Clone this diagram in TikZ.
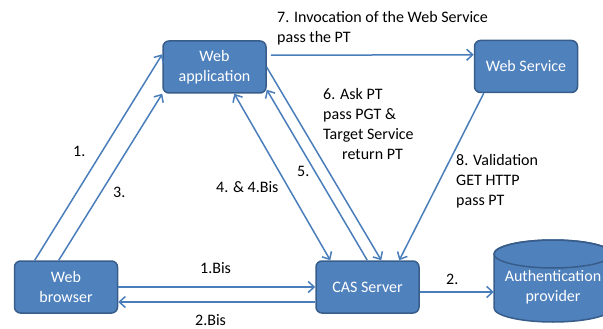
\documentclass[tikz,border=0pt]{standalone}
\usepackage{fontspec}
\setmainfont{Carlito}
\usetikzlibrary{arrows.meta}
\definecolor{boxblue}{HTML}{4F81BD}
\definecolor{boxedge}{HTML}{385D8A}
\definecolor{linkblue}{HTML}{4A7EBB}

\begin{document}
\begin{tikzpicture}[x=1pt,y=-1pt,
  font=\fontsize{16}{20}\selectfont,
  block/.style={draw=boxedge,fill=boxblue,line width=1.5pt,rounded corners=6pt,
    text=white,align=center,minimum width=103pt,minimum height=52pt,inner sep=0pt},
  link/.style={draw=linkblue,line width=1.5pt,-{Straight Barb[length=6pt,width=11pt]}},
  lbl/.style={inner sep=0pt,align=left}]
  \useasboundingbox (0,0) rectangle (603,329);
  \clip (0,0) rectangle (603,329);
  \draw[boxedge,line width=1.5pt,fill=boxblue] (494,254) -- (494,308)
    arc[start angle=180,end angle=360,x radius=59pt,y radius=14pt] -- (612,254)
    arc[start angle=0,end angle=180,x radius=59pt,y radius=14pt] -- cycle;
  \draw[boxedge,line width=1.5pt] (553,254) ellipse[x radius=59pt,y radius=14pt];
  \node[inner sep=0pt,minimum width=118pt,minimum height=82pt,text=white,align=center] (auth) at (553,287) {Authentication\\provider};

  \node[block] (webapp) at (214.5,67) {Web\\application};
  \node[block] (websvc) at (526,66.5) {Web Service};
  \node[block] (browser) at (66,287) {Web\\browser};
  \node[block] (cas) at (367.5,287) {CAS Server};

  \draw[link] ([xshift=21pt]browser.north west) -- ([yshift=-14pt]webapp.north west);
  \draw[link] ([xshift=45pt]browser.north west) -- (webapp.south west);
  \draw[link,{Straight Barb[length=6pt,width=11pt]}-{Straight Barb[length=6pt,width=11pt]}] ([xshift=72pt]webapp.south west) -- ([xshift=15pt]cas.north west);
  \draw[link] ([yshift=-27pt]webapp.north east) -- ([xshift=66pt]cas.north west);
  \draw[link] ([xshift=52pt]cas.north west) -- ([yshift=4pt]webapp.south east);
  \draw[link] ([xshift=4pt,yshift=-15pt]webapp.north east) -- ([yshift=-15pt]websvc.north west);
  \draw[link] ([xshift=10pt]websvc.south west) -- ([xshift=84pt]cas.north west);
  \draw[link] (browser.east) -- (cas.west);
  \draw[link] ([yshift=-15pt]cas.west) -- ([yshift=-15pt]browser.east);
  \draw[link] ([yshift=-5pt]cas.east) -- ([yshift=-5pt]auth.west);

  \node[lbl,anchor=north west] (l7) at (277,11.5) {7. Invocation of the Web Service\\pass the PT};
  \node[lbl,anchor=north west] (l6) at (323,88.5) {6. Ask PT\\pass PGT \&\\Target Service\\\hspace*{19pt}return PT};
  \node[lbl,anchor=north west] (l8) at (456,154.5) {8. Validation\\GET HTTP\\pass PT};
  \node[lbl,anchor=base west] (l5) at (297,176) {5.};
  \node[lbl,anchor=base west] (l4) at (216,192) {4. \& 4.Bis};
  \node[lbl,anchor=base west] (l3) at (113,197) {3.};
  \node[lbl,anchor=base west] (l1) at (73,157) {1.};
  \node[lbl,anchor=base west] (l1b) at (200,273) {1.Bis};
  \node[lbl,anchor=base west] (l2b) at (195,325) {2.Bis};
  \node[lbl,anchor=base west] (l2) at (446,284) {2.};
\end{tikzpicture}
\end{document}
